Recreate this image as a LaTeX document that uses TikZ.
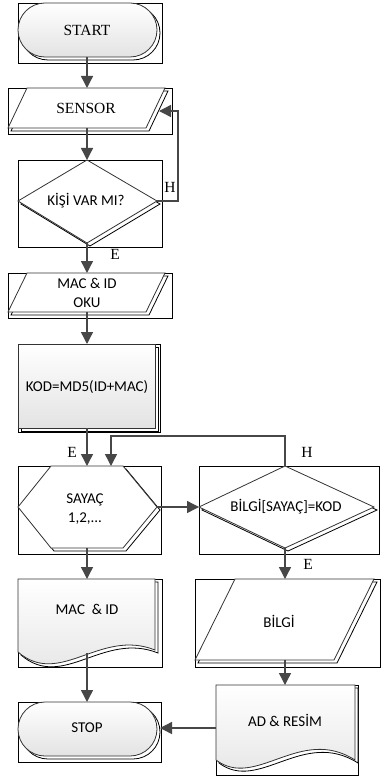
\documentclass[tikz,border=0pt]{standalone}
\usepackage{fontspec}
\setmainfont{Liberation Serif}
\newfontfamily\calfont{Carlito}
\usetikzlibrary{arrows.meta}

\tikzset{
  boxframe/.style={draw=black, line width=0.9pt},
  shapeline/.style={draw=black!80, line width=0.8pt},
  whitefill/.style={shapeline, fill=white},
  graded/.style={shapeline, top color=white, bottom color=black!11},
  dropshadow/.style={draw=black, line width=0.8pt, fill=white},
  wire/.style={draw=black!72, line width=1.4pt},
  flowarrow/.style={wire, -{Triangle[length=12pt,width=12pt]}},
  serifText/.style={font=\fontsize{15.5}{18}\selectfont, inner sep=0pt},
  sansText/.style={font=\calfont\fontsize{15}{19}\selectfont, align=center, inner sep=0pt},
  edgeLabel/.style={font=\fontsize{15.5}{18}\selectfont, inner sep=0pt},
}

% a symbol with a black drop shadow offset to the lower right
\newcommand\shadowed[2]{%
  \path[dropshadow, shift={(3,3)}] #2;
  \path[#1] #2;}

\begin{document}
\begin{tikzpicture}[x=1pt,y=-1pt]
\path[use as bounding box] (0,0) rectangle (381,778);

% frames around every symbol
\draw[boxframe] (18,3) rectangle (162,63);
\draw[boxframe] (8,88) rectangle (172,134);
\draw[boxframe] (18,160) rectangle (162,247);
\draw[boxframe] (8,273) rectangle (172,318);
\draw[boxframe] (18,344) rectangle (160,432);
\draw[boxframe] (18,466) rectangle (161,554);
\draw[boxframe] (199,466) rectangle (379,554);
\draw[boxframe] (18,579) rectangle (162,667);
\draw[boxframe] (195,579) rectangle (380,667);
\draw[boxframe] (216,685) rectangle (358,775);
\draw[boxframe] (18,702) rectangle (161,762);

% symbols
\shadowed{graded}{[rounded corners=27pt] (18,3) rectangle (157,57)}
\shadowed{whitefill}{(27,88) -- (165,88) -- (146,128) -- (8,128) -- cycle}
\shadowed{whitefill}{(87,160) -- (157,201) -- (87,243) -- (18,201) -- cycle}
\shadowed{whitefill}{(27,273) -- (165,273) -- (146,312) -- (8,312) -- cycle}
\shadowed{graded}{(18,344) rectangle (155,428)}
\shadowed{whitefill}{(18,507) -- (51,466) -- (123,466) -- (157,507) -- (123,548) -- (51,548) -- cycle}
\shadowed{whitefill}{(285,466) -- (374,507) -- (285,548) -- (199,507) -- cycle}
\shadowed{graded}{(18,579) -- (155,579) -- (155,650) .. controls (100,628) and (60,688) .. (18,652) -- cycle}
\shadowed{whitefill}{(235,579) -- (374,579) -- (334,660) -- (195,660) -- cycle}
\shadowed{graded}{(216,685) -- (355,685) -- (355,760) .. controls (300,725) and (256,790) .. (216,760) -- cycle}
\shadowed{graded}{[rounded corners=27pt] (18,702) rectangle (157,756)}

% texts
\node[serifText] (tStart) at (87,30) {START};
\node[serifText] (tSensor) at (86,108) {SENSOR};
\node[sansText] (tKisi) at (86,201) {KİŞİ VAR MI?};
\node[sansText] (tOku) at (87,293) {MAC \& ID\\OKU};
\node[sansText] (tKod) at (87,387) {KOD=MD5(ID+MAC)};
\node[sansText] (tSayac) at (85,509) {SAYAÇ\\1,2,...};
\node[sansText] (tTest) at (286,507) {BİLGİ[SAYAÇ]=KOD};
\node[sansText] (tMacId) at (87,609) {MAC~~\& ID};
\node[sansText] (tBilgi) at (279,621) {BİLGİ};
\node[sansText] (tAd) at (285,720) {AD \& RESİM};
\node[sansText] (tStop) at (87,728) {STOP};

% branch labels
\node[edgeLabel] (lH1) at (170,187) {H};
\node[edgeLabel] (lE1) at (115,254) {E};
\node[edgeLabel] (lE2) at (72,452) {E};
\node[edgeLabel] (lH2) at (307,452) {H};
\node[edgeLabel] (lE3) at (308,564) {E};

% connection points
\coordinate (startOut) at (87,57);
\coordinate (sensorIn) at (87,88);
\coordinate (sensorOut) at (87,128);
\coordinate (sensorSide) at (159,111);
\coordinate (kisiIn) at (87,160);
\coordinate (kisiOut) at (87,243);
\coordinate (kisiRight) at (157,201);
\coordinate (loopCorner) at (178,111);
\coordinate (okuIn) at (87,273);
\coordinate (okuOut) at (87,312);
\coordinate (kodIn) at (87,344);
\coordinate (kodOut) at (87,428);
\coordinate (sayacIn) at (87,466);
\coordinate (sayacBack) at (111,466);
\coordinate (sayacRight) at (157,507);
\coordinate (sayacOut) at (87,548);
\coordinate (testIn) at (199,507);
\coordinate (testTop) at (285,466);
\coordinate (testOut) at (285,548);
\coordinate (backCorner) at (111,436);
\coordinate (macIn) at (87,579);
\coordinate (macOut) at (87,653);
\coordinate (bilgiIn) at (285,579);
\coordinate (bilgiOut) at (285,660);
\coordinate (adIn) at (285,685);
\coordinate (adLeft) at (216,728);
\coordinate (stopIn) at (87,702);
\coordinate (stopRight) at (160,728);

% connectors
\draw[flowarrow] (startOut) -- (sensorIn);
\draw[flowarrow] (sensorOut) -- (kisiIn);
\draw[flowarrow] (kisiRight) -| (loopCorner) -- (sensorSide);
\draw[flowarrow] (kisiOut) -- (okuIn);
\draw[flowarrow] (okuOut) -- (kodIn);
\draw[flowarrow] (kodOut) -- (sayacIn);
\draw[flowarrow] (sayacRight) -- (testIn);
\draw[flowarrow] (testTop) |- (backCorner) -- (sayacBack);
\draw[flowarrow] (sayacOut) -- (macIn);
\draw[flowarrow] (macOut) -- (stopIn);
\draw[flowarrow] (testOut) -- (bilgiIn);
\draw[flowarrow] (bilgiOut) -- (adIn);
\draw[flowarrow] (adLeft) -- (stopRight);
\end{tikzpicture}
\end{document}
